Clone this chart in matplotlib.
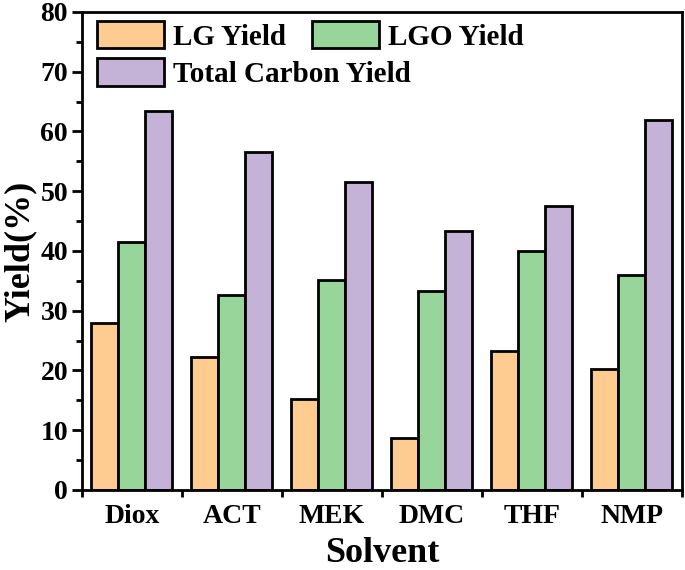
import numpy as np
from matplotlib import pyplot as plt
from matplotlib.ticker import MultipleLocator

solvents = ['Diox', 'ACT', 'MEK', 'DMC', 'THF', 'NMP']
lg_yield = [28.0, 22.3, 15.3, 8.7, 23.3, 20.3]
lgo_yield = [41.5, 32.7, 35.2, 33.3, 40.0, 36.0]
total_yield = [63.5, 56.5, 51.5, 43.3, 47.5, 62.0]

plt.rcParams['font.family'] = ['Liberation Serif', 'DejaVu Serif']
plt.rcParams['font.weight'] = 'bold'

fig = plt.figure(figsize=(6.85, 5.7), dpi=100)
ax = fig.add_axes([0.1197, 0.1404, 0.8759, 0.8386])

x = np.arange(len(solvents))
w = 0.27
b1 = ax.bar(x - w, lg_yield, w, color='#FECC91', edgecolor='black', linewidth=2, label='LG Yield')
b2 = ax.bar(x, lgo_yield, w, color='#98D59A', edgecolor='black', linewidth=2, label='LGO Yield')
b3 = ax.bar(x + w, total_yield, w, color='#C4B3D7', edgecolor='black', linewidth=2, label='Total Carbon Yield')

ax.set_xlim(-0.5, len(solvents) - 0.5)
ax.set_ylim(0, 80)
ax.yaxis.set_major_locator(MultipleLocator(10))
ax.yaxis.set_minor_locator(MultipleLocator(5))

# ticks at group boundaries, labels centered
ax.set_xticks(np.arange(-0.5, len(solvents), 1.0))
ax.set_xticklabels([])
ax.set_xticks(x, minor=True)
ax.set_xticklabels(solvents, minor=True)
ax.tick_params(axis='x', which='minor', length=0, pad=10, labelsize=20)
ax.tick_params(axis='x', which='major', direction='out', length=5, width=2)
ax.tick_params(axis='y', which='major', direction='out', length=7, width=2, labelsize=20, pad=3)
ax.tick_params(axis='y', which='minor', direction='out', length=4, width=2)

for s in ax.spines.values():
    s.set_linewidth(2)

ax.set_xlabel('Solvent', fontsize=26, fontweight='bold', labelpad=6)
ax.set_ylabel('Yield(%)', fontsize=26, fontweight='bold', labelpad=3)

# legend laid out in rows: LG + LGO on top, Total below
leg_kw = dict(frameon=False, fontsize=21, handlelength=2.3, handleheight=1.07,
              handletextpad=0.3, columnspacing=0.9, borderpad=0, borderaxespad=0,
              loc='center left')
leg1 = ax.legend([b1, b2], ['LG Yield', 'LGO Yield'], ncol=2,
                 bbox_to_anchor=(0.025, 0.95), **leg_kw)
ax.add_artist(leg1)
ax.legend([b3], ['Total Carbon Yield'], bbox_to_anchor=(0.025, 0.872), **leg_kw)

fig.savefig('out.png', dpi=100)
